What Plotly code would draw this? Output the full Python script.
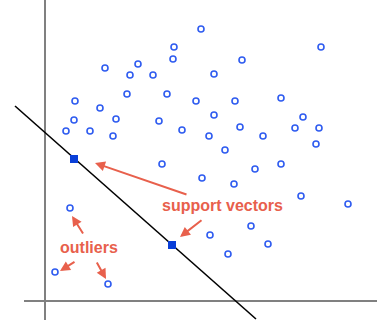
import plotly.graph_objects as go

# Data (units: origin at axes crossing)
pts_x = [15.6, 12.9, 27.6, 12.8, 6.0, 9.3, 8.5, 10.8, 16.9, 19.7, 8.2, 12.2, 3.0, 5.5, 15.1, 19.0, 23.6,
         2.9, 7.1, 11.4, 16.9, 25.8, 2.1, 4.5, 6.8, 13.7, 19.5, 25.0, 27.4, 16.4, 21.8, 27.1, 18.0,
         11.7, 21.0, 23.6, 15.7, 18.9, 25.6, 30.3, 20.6, 16.5, 22.3, 18.3]
pts_y = [27.2, 25.4, 25.4, 24.2, 23.3, 23.7, 22.6, 22.6, 22.7, 24.1, 20.7, 20.7, 20.0, 19.3, 20.0, 20.0, 20.3,
         18.1, 18.2, 18.0, 18.6, 18.4, 17.0, 17.0, 16.5, 17.1, 17.4, 17.3, 17.3, 16.5, 16.5, 15.7, 15.1,
         13.7, 13.2, 13.7, 12.3, 11.7, 10.5, 9.7, 7.5, 6.6, 5.7, 4.7]
out_x = [2.5, 1.0, 6.3]
out_y = [9.3, 2.9, 1.7]
sv_x = [2.9, 12.7]
sv_y = [14.2, 5.6]
line_x = [-3.0, 21.1]
line_y = [19.5, -1.8]

RED = "#e8604c"
BLUE = "#2f5cf0"

fig = go.Figure()
fig.add_trace(go.Scatter(x=line_x, y=line_y, mode="lines",
                         line=dict(color="black", width=1.6), hoverinfo="skip"))
fig.add_trace(go.Scatter(x=pts_x + out_x, y=pts_y + out_y, mode="markers",
                         marker=dict(symbol="circle-open", size=6, color=BLUE, line=dict(width=1.6))))
fig.add_trace(go.Scatter(x=sv_x, y=sv_y, mode="markers",
                         marker=dict(symbol="square", size=8, color="#0a3fd8")))

# axes lines
fig.add_shape(type="line", x0=0, x1=0, y0=-1.9, y1=31, line=dict(color="#808080", width=2), layer="below")
fig.add_shape(type="line", x0=-2.1, x1=34, y0=0, y1=0, line=dict(color="#808080", width=2), layer="below")

def arrow(hx, hy, tx, ty):
    fig.add_annotation(x=hx, y=hy, ax=tx, ay=ty, xref="x", yref="y", axref="x", ayref="y",
                       text="", showarrow=True, arrowhead=2, arrowsize=1, arrowwidth=2,
                       arrowcolor=RED, standoff=0, startstandoff=0)

arrow(5.0, 13.8, 14.3, 10.6)
arrow(13.5, 6.4, 15.8, 8.2)
arrow(2.7, 8.5, 3.9, 6.6)
arrow(1.5, 3.0, 3.1, 4.0)
arrow(6.1, 2.2, 5.1, 4.0)

fig.add_annotation(x=17.7, y=9.6, xref="x", yref="y", text="support vectors", showarrow=False,
                   font=dict(family="Liberation Sans", size=16, color=RED, weight="bold"))
fig.add_annotation(x=4.4, y=5.4, xref="x", yref="y", text="outliers", showarrow=False,
                   font=dict(family="Liberation Sans", size=16, color=RED, weight="bold"))

fig.update_xaxes(range=[-4.5, 33.2], visible=False)
fig.update_yaxes(range=[-2.5, 30.1], visible=False)
fig.update_layout(width=377, height=326, margin=dict(l=0, r=0, t=0, b=0),
                  paper_bgcolor="white", plot_bgcolor="white", showlegend=False)
fig.write_html("out.html", config={"displayModeBar": False},
               post_script="document.body.style.margin='0';")
